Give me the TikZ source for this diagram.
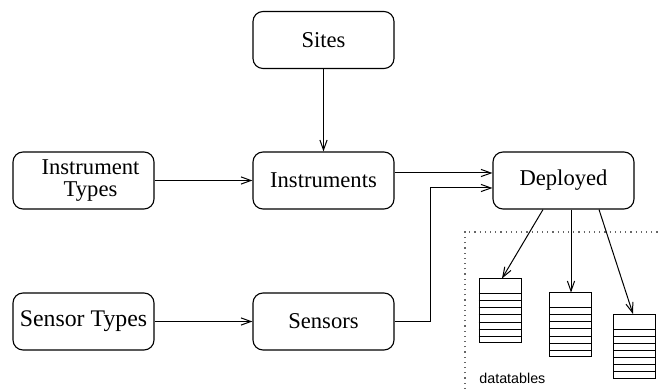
\documentclass[tikz,border=0pt]{standalone}
\usepackage{fontspec}
\setmainfont{Liberation Serif}
\setsansfont{Liberation Sans}
\usepackage{tikz}
\usetikzlibrary{arrows.meta,calc}

\tikzset{
  box/.style={draw,rounded corners=5pt,minimum width=70.5pt,minimum height=28.5pt,
    align=center,inner sep=1pt,line width=0.55pt,font=\fontsize{11.3}{11}\selectfont},
  link/.style={line width=0.5pt,-{Straight Barb[length=5pt,width=3.6pt]}},
  tbl/.style={draw,line width=0.5pt,minimum width=21pt,minimum height=32pt,inner sep=0pt}
}

\begin{document}
\begin{tikzpicture}[x=0.5pt,y=-0.5pt]
\useasboundingbox (0,0) rectangle (660,389);

\node[box] (sites) at (323.5,40) {Sites};
\node[box] (itypes) at (83.5,180.5) {\hspace*{7pt}Instrument\\\hspace*{7pt}Types};
\node[box] (instr) at (323.5,180.5) {Instruments};
\node[box] (dep) at (563.5,180.5) {Deployed};
\node[box,font=\fontsize{11.9}{11}\selectfont] (stypes) at (83.5,321.5) {Sensor Types};
\node[box] (sens) at (323.5,321.5) {Sensors};

\draw[link] (sites) -- (instr);
\draw[link] (itypes) -- (instr);
\draw[link] (stypes) -- (sens);
\draw[link] ([yshift=3.75pt]instr.east) -- ([yshift=3.75pt]dep.west);
\draw[link] (sens.east) -| (430,188) -- ([yshift=-3.75pt]dep.west);

% datatables
\draw[dotted,line width=0.6pt,gray!80!black] (465,389) -- (465,232) -- (660,232);
\node[font=\sffamily\fontsize{7.15}{8}\selectfont,anchor=base west,inner sep=0pt] (dtlabel) at (479,384) {datatables};

\node[tbl] (tab1) at (500,311) {};
\node[tbl] (tab2) at (570.5,325) {};
\node[tbl] (tab3) at (634.5,346.5) {};
\foreach \t in {tab1,tab2,tab3}
  \foreach \k in {1,...,7}
    \draw[line width=0.5pt] ([yshift=\k*3.57pt]\t.south west) -- ([yshift=\k*3.57pt]\t.south east);

\draw[link] ([xshift=-10.25pt]dep.south) -- ([xshift=1pt]tab1.north);
\draw[link] ([xshift=3.75pt]dep.south) -- ([xshift=0.25pt]tab2.north);
\draw[link] ([xshift=17.75pt]dep.south) -- ([xshift=-0.75pt]tab3.north);
\end{tikzpicture}
\end{document}
